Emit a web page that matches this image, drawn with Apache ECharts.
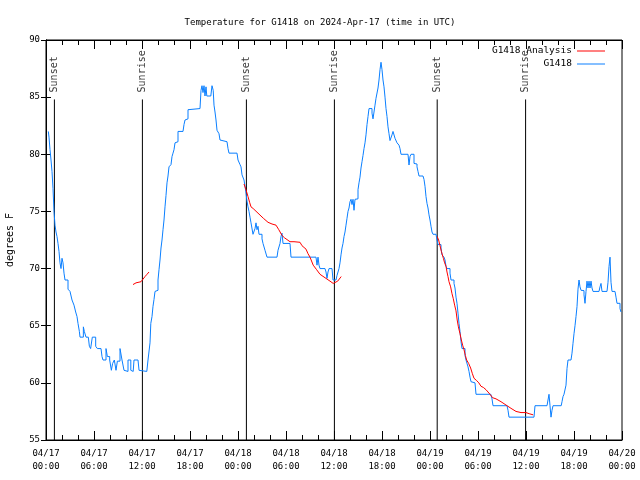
<!DOCTYPE html>
<html>
<head>
<meta charset="utf-8">
<script src="https://cdn.jsdelivr.net/npm/echarts@6/dist/echarts.min.js"></script>
<style>html,body{margin:0;padding:0;background:#fff;}#chart{width:640px;height:480px;}</style>
</head>
<body>
<div id="chart"></div>
<script>
// hours since 2024-04-17 00:00 UTC
const dateLabels = ['04/17','04/17','04/17','04/17','04/18','04/18','04/18','04/18','04/19','04/19','04/19','04/19','04/20'];
const timeLabels = ['00:00','06:00','12:00','18:00','00:00','06:00','12:00','18:00','00:00','06:00','12:00','18:00','00:00'];

const eventHours = [1.05, 12.05, 25.05, 36.05, 48.9, 59.95];
const eventNames = ['Sunset','Sunrise','Sunset','Sunrise','Sunset','Sunrise'];

const tempHours = [0.29,0.375,0.5,0.625,0.75,0.875,1.0,1.125,1.25,1.375,1.5,1.625,1.75,1.875,2.0,2.125,2.25,2.375,2.625,2.75,3.0,3.25,3.5,3.71,3.875,4.0,4.17,4.25,4.5,4.67,4.79,5.0,5.29,5.42,5.58,5.79,6.04,6.21,6.42,6.875,7.0,7.125,7.33,7.5,7.67,7.96,8.17,8.33,8.54,8.75,8.92,9.25,9.5,9.75,10.0,10.25,10.5,10.6,10.75,10.9,11.0,11.5,11.63,11.875,12.6,12.75,13.0,13.1,13.25,13.375,13.5,13.625,13.875,14.0,14.125,14.25,14.375,14.5,14.625,14.75,14.875,15.0,15.125,15.25,15.375,15.625,15.75,15.875,16.0,16.125,16.375,16.5,17.125,17.25,17.375,17.625,17.75,18.0,19.25,19.375,19.5,19.625,19.75,19.875,20.0,20.1,20.6,20.75,20.9,21.0,21.125,21.25,21.375,21.625,21.75,21.875,22.625,22.75,22.875,23.875,24.0,24.25,24.375,24.5,24.75,24.875,25.0,25.125,25.25,25.375,25.5,25.625,25.875,26.0,26.125,26.25,26.375,26.5,26.625,27.0,27.125,27.375,27.625,28.875,29.0,29.25,29.375,29.5,29.625,30.5,30.625,33.75,33.875,34.0,34.125,34.25,34.875,35.0,35.125,35.25,35.375,35.75,35.875,36.25,36.375,36.5,36.625,36.75,36.875,37.0,37.125,37.25,37.375,37.5,37.625,37.75,37.875,38.0,38.125,38.25,38.375,38.5,38.625,38.875,39.0,39.125,39.25,39.375,39.5,39.625,39.75,39.875,40.0,40.125,40.25,40.375,40.625,40.75,40.875,41.0,41.125,41.25,41.375,41.5,41.625,41.75,41.875,42.0,42.125,42.25,42.375,42.5,42.625,42.75,42.875,43.0,43.125,43.25,43.375,43.5,43.625,43.875,44.0,44.125,44.25,44.375,45.25,45.375,45.5,45.625,45.875,46.0,46.25,46.375,46.5,46.625,47.125,47.25,47.375,47.5,47.625,47.75,47.875,48.0,48.125,48.25,48.375,48.75,48.875,49.0,49.25,49.375,49.5,49.75,49.875,50.0,50.125,50.375,50.5,50.625,50.875,51.0,51.125,51.25,51.375,51.5,51.625,51.75,51.875,52.0,52.25,52.375,52.5,52.625,52.75,52.875,53.0,53.125,53.25,53.625,53.75,55.6,55.75,55.875,57.625,57.75,57.875,61.0,61.125,62.625,62.75,62.875,63.0,63.125,63.25,63.375,64.4,64.5,64.625,64.75,64.875,65.0,65.125,65.25,65.625,65.75,65.875,66.0,66.125,66.25,66.375,66.5,66.625,66.75,66.875,67.125,67.25,67.375,67.5,67.625,67.75,67.875,68.0,68.125,68.25,68.375,69.125,69.25,69.375,69.5,70.125,70.25,70.375,70.5,70.625,70.75,71.125,71.25,71.375,71.625,71.75,71.875];
const tempValues = [82.0,81.5,80.4,79.5,78.5,77.0,75.0,73.8,73.2,72.8,72.2,71.5,70.5,70.0,70.9,70.5,69.6,69.0,69.0,68.2,68.0,67.25,66.8,66.2,65.8,65.2,64.5,64.0,64.0,64.9,64.5,64.0,64.0,63.2,63.0,64.0,64.0,63.2,63.0,63.0,62.3,62.0,62.0,63.0,62.3,62.0,61.1,61.7,62.0,61.1,61.9,63.0,62.0,61.1,61.0,62.0,62.0,61.1,61.0,61.1,62.0,62.0,61.1,61.0,61.0,62.0,63.5,65.2,65.8,66.7,67.3,68.0,68.1,69.0,69.9,70.75,71.8,72.5,73.4,74.25,75.4,76.4,77.5,78.1,78.9,79.1,79.8,80.1,80.4,81.0,81.1,82.0,82.0,82.6,83.0,83.1,83.9,84.0,84.0,85.6,86.0,85.4,86.0,85.1,85.9,85.1,85.1,86.0,85.6,84.3,83.7,83.0,82.1,81.8,81.25,81.1,81.1,80.5,80.1,80.0,79.5,79.1,78.9,78.2,77.75,77.2,76.6,75.9,75.4,75.0,74.5,74.0,73.0,73.0,73.5,74.0,73.4,73.7,73.0,72.6,72.2,71.6,71.0,71.0,71.6,72.2,72.8,73.1,72.2,72.2,71.0,71.0,70.3,71.0,70.3,70.0,70.0,69.7,69.15,69.7,70.0,70.0,69.0,69.0,69.4,69.5,70.0,70.5,71.2,71.8,72.2,72.8,73.2,73.8,74.4,75.0,75.3,75.85,76.06,75.6,76.06,75.1,76.06,76.1,76.9,77.5,78.0,78.8,79.35,79.9,80.5,81.0,81.7,82.6,83.3,84.0,84.0,83.6,83.1,83.7,84.3,84.9,85.0,85.8,86.5,87.4,88.05,87.4,86.5,85.9,85.0,84.0,83.3,82.4,81.8,81.2,81.3,81.7,82.0,82.0,81.4,81.0,81.0,80.8,80.5,80.0,80.0,79.06,79.8,80.0,80.0,79.2,79.15,78.9,78.5,78.1,78.1,77.8,77.2,76.3,75.7,75.3,74.7,74.25,73.7,73.2,73.0,73.0,72.5,72.1,72.1,71.8,71.2,71.0,70.75,70.2,70.0,70.0,69.6,69.0,69.0,68.7,68.3,67.5,66.96,66.1,65.2,64.5,63.6,63.0,63.0,62.4,62.0,61.9,61.4,61.0,60.5,60.1,60.0,60.0,59.0,59.0,58.6,58.0,58.0,57.6,57.0,57.0,58.0,58.0,58.5,59.0,58.0,57.0,57.6,58.0,58.0,58.35,58.8,59.0,59.0,59.8,61.25,62.0,62.0,62.6,63.46,64.3,65.0,65.8,66.67,68.2,69.0,68.4,68.1,68.07,67.7,66.96,68.0,68.9,68.3,68.9,68.3,68.9,68.3,68.0,68.0,68.4,68.7,68.0,68.0,68.8,70.17,71.0,68.8,68.0,68.0,67.5,66.96,66.96,66.5,66.2];

const analysisHoursA = [10.875,11.25,11.875,12.0,12.375,12.625,12.875];
const analysisTempsA = [68.6,68.75,68.85,69.0,69.3,69.5,69.7];
const analysisHoursB = [24.75,24.85,25.0,25.25,25.45,25.625,25.9,26.125,26.5,26.75,27.17,27.75,28.25,28.75,29.1,29.5,29.8,30.5,31.0,31.75,32.0,32.5,32.75,33.0,33.4,33.83,34.25,34.875,35.5,35.9,36.1,36.46,36.9];
const analysisTempsB = [77.4,77.3,76.9,76.3,75.8,75.4,75.25,75.1,74.85,74.7,74.4,74.05,73.9,73.8,73.4,72.9,72.7,72.35,72.35,72.3,72.0,71.7,71.3,71.0,70.3,69.9,69.5,69.2,68.9,68.7,68.7,68.9,69.3];
const analysisHoursC = [48.9,49.08,49.25,49.42,49.67,49.83,50.0,50.125,50.25,50.375,50.58,50.75,50.9,51.08,51.25,51.4,51.55,51.75,51.92,52.08,52.25,52.42,52.58,52.83,53.08,53.3,53.5,53.83,54.1,54.375,54.67,55.0,55.5,55.83,56.25,56.875,57.5,58.125,58.75,59.375,60.0,60.4,60.9];
const analysisTempsC = [72.8,72.5,72.0,71.5,70.9,70.5,70.2,69.7,69.3,68.85,68.4,67.8,67.4,66.8,66.3,65.5,64.9,64.3,63.75,63.3,62.9,62.4,62.0,61.7,61.3,60.8,60.4,60.2,60.0,59.7,59.6,59.4,59.0,58.7,58.6,58.35,58.06,57.77,57.5,57.4,57.4,57.3,57.2];

const FONT = 'DejaVu Sans Mono';
const zip = (a, b) => a.map((v, i) => [v, b[i]]);

const chart = echarts.init(document.getElementById('chart'), null, {renderer: 'canvas'});

const series = [];
[[analysisHoursA, analysisTempsA],[analysisHoursB, analysisTempsB],[analysisHoursC, analysisTempsC]].forEach(p => {
  series.push({
    name: 'G1418 Analysis', type: 'line', data: zip(p[0], p[1]),
    symbol: 'none', lineStyle: {color: '#ff0000', width: 1}, itemStyle: {color: '#ff0000'},
    z: 4, animation: false
  });
});
series.push({
  name: 'G1418', type: 'line', data: zip(tempHours, tempValues), step: 'end',
  symbol: 'none', lineStyle: {color: '#0a7fff', width: 1}, itemStyle: {color: '#0a7fff'},
  z: 3, animation: false
});
eventHours.forEach((h, i) => {
  series.push({
    name: 'ev' + i, type: 'line', data: [[h, 55], [h, 84.8]],
    symbol: 'none', lineStyle: {color: '#000', width: 1}, z: 2, animation: false, silent: true
  });
  series.push({
    name: 'evl' + i, type: 'scatter', data: [[h, 84.8]], symbolSize: 0, silent: true, animation: false,
    label: {show: true, formatter: eventNames[i], position: 'top', distance: 7, rotate: 90,
      align: 'left', verticalAlign: 'middle', fontFamily: FONT, fontSize: 10, color: '#000'}
  });
});

const xCommon = {
  type: 'value', min: 0, max: 72, interval: 6,
  axisLine: {show: true, lineStyle: {color: '#000', width: 1}},
  axisTick: {show: true, inside: true, length: 9, lineStyle: {color: '#000'}},
  minorTick: {show: true, splitNumber: 3, length: 5, lineStyle: {color: '#000'}},
  splitLine: {show: false}, minorSplitLine: {show: false}
};
const yCommon = {
  type: 'value', min: 55, max: 90, interval: 5,
  axisLine: {show: true, lineStyle: {color: '#000', width: 1}},
  axisTick: {show: true, inside: true, length: 5, lineStyle: {color: '#000'}},
  splitLine: {show: false}
};

chart.setOption({
  animation: false,
  backgroundColor: '#fff',
  title: {text: 'Temperature for G1418 on 2024-Apr-17 (time in UTC)', left: 'center', top: 13,
    textStyle: {fontFamily: FONT, fontSize: 9, fontWeight: 'normal', color: '#000'}},
  legend: [
    {data: ['G1418 Analysis'], right: 30, top: 41, align: 'right', icon: 'rect', itemWidth: 28, itemHeight: 1,
      textStyle: {fontFamily: FONT, fontSize: 9.5, color: '#000'}, selectedMode: false},
    {data: ['G1418'], right: 30, top: 54, align: 'right', icon: 'rect', itemWidth: 28, itemHeight: 1,
      textStyle: {fontFamily: FONT, fontSize: 9.5, color: '#000'}, selectedMode: false}
  ],
  grid: {left: 46, right: 18, top: 40, bottom: 40, show: true, borderColor: '#000', borderWidth: 1,
    backgroundColor: 'transparent', containLabel: false, outerBoundsMode: 'none'},
  xAxis: [
    Object.assign({}, xCommon, {position: 'bottom',
      axisLabel: {show: true, margin: 7, fontFamily: FONT, fontSize: 9, color: '#000', lineHeight: 13,
        formatter: v => { const i = Math.round(v / 6); return dateLabels[i] + '\n' + timeLabels[i]; }}}),
    Object.assign({}, xCommon, {position: 'top', axisLabel: {show: false}})
  ],
  yAxis: [
    Object.assign({}, yCommon, {position: 'left', name: 'degrees F', nameLocation: 'middle', nameRotate: 90, nameGap: 31,
      nameTextStyle: {fontFamily: FONT, fontSize: 10, color: '#000'},
      axisLabel: {show: true, margin: 6, fontFamily: FONT, fontSize: 9, color: '#000'}}),
    Object.assign({}, yCommon, {position: 'right', axisLabel: {show: false}})
  ],
  series: series
});
</script>
</body>
</html>
